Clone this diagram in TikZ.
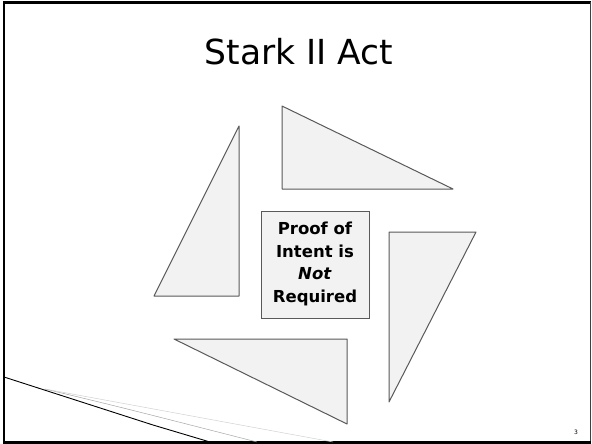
\documentclass[tikz,border=0pt]{standalone}
\usepackage{fontspec}
\setmainfont{DejaVu Sans}
\begin{document}
\begin{tikzpicture}[x=1pt,y=-1pt,
  tri/.style={draw=black!65, fill=black!5, line width=1pt, line join=round},
  centerbox/.style={draw=black!65, fill=black!5, line width=1pt, minimum width=108pt, minimum height=107pt, align=center, font=\bfseries\fontsize{16.5}{22.5}\selectfont, inner sep=0pt},
  frameline/.style={line width=2.5pt}]
\useasboundingbox (0,0) rectangle (592,444);
% frame
\draw[frameline, black] (4,444) -- (4,2.5) -- (590.5,2.5);
\draw[line width=1.2pt, black!75] (590.5,2.5) -- (590.5,442.5);
\draw[frameline, black] (4,442.5) -- (590.5,442.5);
% title
\node (title) at (299,52) {\fontsize{34.5}{40}\selectfont Stark II Act};
% triangles
\draw[tri] (239,126) -- (154,296) -- (239,296) -- cycle;
\draw[tri] (282,106) -- (282,189) -- (453,189) -- cycle;
\draw[tri] (389,232) -- (476,232) -- (389,402) -- cycle;
\draw[tri] (174,339) -- (347,339) -- (347,424) -- cycle;
% center box
\node[centerbox] (box) at (315,264.5) {};
\node[align=center, font=\bfseries\fontsize{16.5}{22.5}\selectfont, inner sep=0pt] (boxtext) at (315,264) {Proof of\\Intent is\\\textit{Not}\\Required};
% swooshes
\coordinate (s0) at (4,377);
\coordinate (s1) at (153,425);
\coordinate (s2) at (210,442);
\coordinate (g0) at (45,389);
\coordinate (g1) at (257,442);
\coordinate (g2) at (333,442);
\draw[black!35, line width=0.5pt] (g0) .. controls (120,407) .. (g1);
\draw[black!18, line width=0.5pt] (g0) -- (g2);
\draw[black, line width=0.9pt] (s0) -- (s1) -- (s2);
% page number
\node (pnum) at (576,432) {\fontsize{6}{7}\selectfont 3};
\end{tikzpicture}
\end{document}
